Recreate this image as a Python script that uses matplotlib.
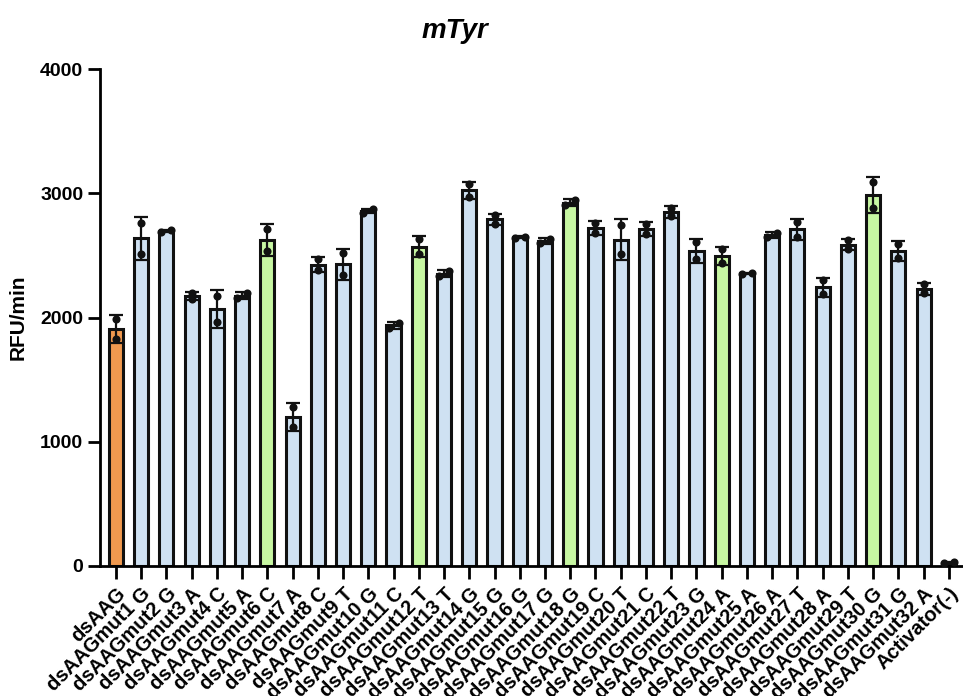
import numpy as np
import matplotlib
matplotlib.use("Agg")
import matplotlib.pyplot as plt

plt.rcParams['font.family'] = ['Liberation Sans', 'DejaVu Sans']
plt.rcParams['font.weight'] = 'bold'

labels = ["dsAAG"] + [
    "dsAAGmut1 G", "dsAAGmut2 G", "dsAAGmut3 A", "dsAAGmut4 C", "dsAAGmut5 A",
    "dsAAGmut6 C", "dsAAGmut7 A", "dsAAGmut8 C", "dsAAGmut9 T", "dsAAGmut10 G",
    "dsAAGmut11 C", "dsAAGmut12 T", "dsAAGmut13 T", "dsAAGmut14 G", "dsAAGmut15 G",
    "dsAAGmut16 G", "dsAAGmut17 G", "dsAAGmut18 G", "dsAAGmut19 C", "dsAAGmut20 T",
    "dsAAGmut21 C", "dsAAGmut22 T", "dsAAGmut23 G", "dsAAGmut24 A", "dsAAGmut25 A",
    "dsAAGmut26 A", "dsAAGmut27 T", "dsAAGmut28 A", "dsAAGmut29 T", "dsAAGmut30 G",
    "dsAAGmut31 G", "dsAAGmut32 A",
] + ["Activator(-)"]

# two replicates per construct
rep1 = [1990, 2758, 2690, 2199, 2177, 2196, 2712, 1278, 2468, 2516, 2844,
        1917, 2629, 2333, 3073, 2823, 2640, 2597, 2946, 2758, 2742,
        2750, 2884, 2607, 2548, 2352, 2648, 2769, 2298, 2621, 3091,
        2589, 2266, 22]
rep2 = [1830, 2514, 2705, 2151, 1962, 2156, 2532, 1120, 2382, 2339, 2871,
        1957, 2508, 2373, 2973, 2756, 2650, 2635, 2903, 2683, 2508,
        2669, 2817, 2468, 2441, 2360, 2683, 2648, 2191, 2554, 2882,
        2476, 2194, 30]

# group: 0 = parent, 1 = mutant, 2 = highlighted mutant
group = [0, 1, 1, 1, 1, 1, 2, 1, 1, 1, 1, 1, 2, 1, 1, 1, 1, 1, 2, 1, 1,
         1, 1, 1, 2, 1, 1, 1, 1, 1, 2, 1, 1, 1]
palette = {0: "#F0994F", 1: "#CFE1F2", 2: "#C7F7A2"}

reps = np.array([rep1, rep2], dtype=float)
means = reps.mean(axis=0)
sds = reps.std(axis=0, ddof=1)
x = np.arange(len(labels))

fig = plt.figure(figsize=(9.63, 6.96), dpi=100)
ax = fig.add_axes([100 / 963, 130 / 696, 862 / 963, 497 / 696])

ax.bar(x, means, width=0.56, color=[palette[g] for g in group],
       edgecolor="#111111", linewidth=2.2, zorder=2)
ax.errorbar(x, means, yerr=sds, fmt="none", ecolor="#111111",
            elinewidth=1.6, capsize=5, capthick=1.6, zorder=3)

# replicate dots, nudged sideways when they would overlap
for i in x:
    a, b = reps[0, i], reps[1, i]
    dx = 0.2 if abs(a - b) < 45 else 0.0
    ax.scatter([i - dx, i + dx], [min(a, b), max(a, b)], s=34,
               color="#111111", zorder=4, linewidths=0)

ax.set_xlim(-0.63, 33.52)
ax.set_ylim(0, 4000)
ax.set_yticks([0, 1000, 2000, 3000, 4000])
ax.set_xticks(x)
ax.set_xticklabels(labels, rotation=45, ha="right", va="top",
                   rotation_mode="anchor", fontsize=14.5, fontweight="bold")
ax.tick_params(axis="y", labelsize=14, width=2, length=9, pad=3)
ax.tick_params(axis="x", width=2, length=9, pad=4)

for s in ["top", "right"]:
    ax.spines[s].set_visible(False)
for s in ["left", "bottom"]:
    ax.spines[s].set_linewidth(2)

ax.set_ylabel("RFU/min", fontsize=15, fontweight="bold")
ax.yaxis.set_label_coords(-72 / 862, 0.5)
fig.text(455 / 963, 1 - 31 / 696, "mTyr", fontsize=20, fontweight="bold",
         style="italic", ha="center", va="center")

fig.savefig("out.png", dpi=100)
